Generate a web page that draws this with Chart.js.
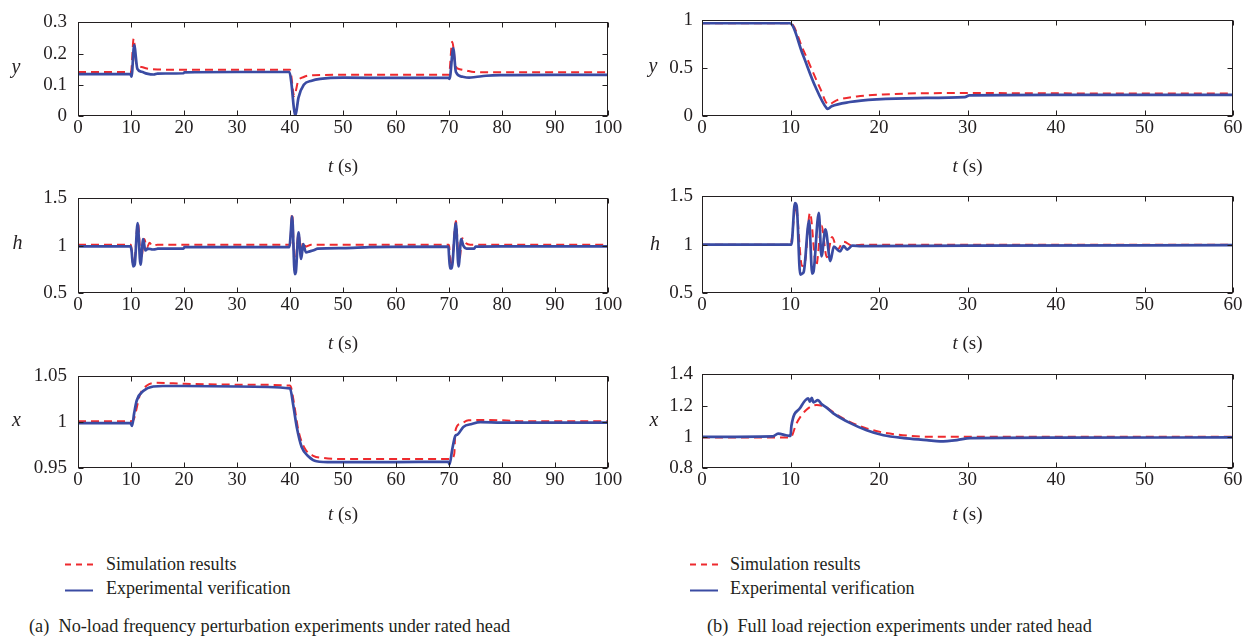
<!DOCTYPE html>
<html>
<head>
<meta charset="utf-8">
<script src="https://cdn.jsdelivr.net/npm/chart.js@4.4.1/dist/chart.umd.min.js"></script>
<style>
  html, body { margin:0; padding:0; background:#fff; }
  body { width:1250px; height:642px; position:relative; overflow:hidden; font-family:"Liberation Serif", serif; color:#231f20; }
  canvas { position:absolute; }
  .t { position:absolute; white-space:pre; line-height:1; }
  .ylab { font-style:italic; font-size:20px; }
  .xlab { font-size:19px; }
  .leg { font-size:18px; }
  .cap { font-size:18.3px; }
  svg { position:absolute; }
</style>
</head>
<body>
<canvas id="cAy" width="625" height="140" style="left:0;top:0"></canvas>
<canvas id="cAh" width="625" height="141" style="left:0;top:176px"></canvas>
<canvas id="cAx" width="625" height="138" style="left:0;top:354px"></canvas>
<canvas id="cBy" width="625" height="140" style="left:625px;top:0"></canvas>
<canvas id="cBh" width="625" height="141" style="left:625px;top:176px"></canvas>
<canvas id="cBx" width="625" height="138" style="left:625px;top:354px"></canvas>
<div id="texts"></div>
<script>
// ---------------- DATA ----------------
// (a) No-load frequency perturbation, y
const aY_expT = [0,9.9,10.1,10.6,11.2,12,13,14.3,15,19.9,20.1,30,39.9,40.3,40.7,41.0,41.6,42.6,44.1,45.7,50,60,69.9,70.1,70.8,71.3,72.5,73.8,75,77,79.7,90,100];
const aY_exp  = [0.134,0.134,0.126,0.227,0.151,0.142,0.136,0.133,0.136,0.137,0.140,0.141,0.141,0.10,0.03,0.0,0.059,0.10,0.113,0.119,0.123,0.122,0.122,0.119,0.217,0.141,0.126,0.123,0.125,0.129,0.131,0.132,0.132];
const aY_simT = [0,10,10.5,11.0,12,13,15,20,30,40,40.8,41.5,42.6,44.5,50,60,70,70.6,71.3,72,73.2,74.7,80,90,100];
const aY_sim  = [0.141,0.141,0.248,0.168,0.157,0.152,0.149,0.148,0.148,0.148,0.064,0.11,0.125,0.131,0.132,0.132,0.132,0.238,0.158,0.15,0.146,0.141,0.14,0.14,0.14];
// (a) h
const aH_expT = [0,9.9,10.1,10.4,10.7,11.25,11.8,12.3,12.7,13.2,14.1,14.8,15,19.9,20.1,30,39.9,40.1,40.4,40.9,41.1,41.6,42.1,42.5,43,43.7,44.6,45.2,50,55,69.9,70.0,70.2,70.5,71.3,71.8,72.3,72.7,73.3,74.8,75,80,100];
const aH_exp  = [0.993,0.993,0.95,0.78,0.80,1.24,0.80,1.07,0.95,0.97,0.96,0.965,0.97,0.97,0.985,0.985,0.985,1.10,1.31,0.70,0.72,1.14,0.86,1.016,0.93,0.94,0.955,0.97,0.975,0.985,0.99,0.90,0.76,0.76,1.24,0.78,1.07,1.0,0.97,0.97,0.99,0.993,0.993];
const aH_simT = [0,10,10.4,10.7,11.3,11.9,12.5,13.0,13.5,14,15,40,40.4,40.9,41.6,42.1,42.5,43,44,70,70.3,70.6,71.3,71.9,72.5,73.1,74,100];
const aH_sim  = [1.01,1.01,0.80,0.85,1.24,0.85,1.07,0.98,1.03,1.0,1.01,1.01,1.34,0.75,1.12,0.95,1.04,0.99,1.01,1.01,0.78,0.82,1.26,0.82,1.08,1.03,1.01,1.01];
// (a) x
const aX_expT = [0,9.9,10.2,10.6,11.1,12.3,14.2,16,20,30,40,40.6,41.3,42.2,43.5,45,48,60,69.9,70.1,70.6,71.2,71.6,72.7,74.3,75.9,80,90,100];
const aX_exp  = [0.999,0.999,0.996,1.01,1.024,1.034,1.039,1.0395,1.0395,1.039,1.037,1.019,0.994,0.973,0.9626,0.9574,0.9564,0.9565,0.9568,0.9539,0.97,0.9853,0.9865,0.9948,0.998,1.0,0.9995,0.9995,0.9995];
const aX_simT = [0,10,10.5,11.7,13,14.8,20,30,40,40.2,40.75,41.6,42.8,44.4,46.3,50,70,70.5,71,71.2,72.1,73.7,76.9,85,100];
const aX_sim  = [1.001,1.001,1.003,1.030,1.040,1.043,1.042,1.041,1.040,1.038,1.021,0.9905,0.9713,0.9633,0.9609,0.9598,0.9598,0.9605,0.9657,0.9905,0.998,1.002,1.0025,1.001,1.001];
// (b) Full load rejection, y
const bY_expT = [0,9.93,11.4,12.76,14.1,14.2,14.65,16.7,19.75,24.3,29.7,30.2,40,50,60];
const bY_exp  = [0.97,0.97,0.64,0.317,0.079,0.075,0.102,0.146,0.174,0.188,0.198,0.215,0.22,0.222,0.222];
const bY_simT = [0,10,11.4,13.3,14.3,15.2,17.5,20.5,25,30,40,50,60];
const bY_sim  = [0.97,0.97,0.70,0.30,0.12,0.164,0.205,0.225,0.238,0.24,0.237,0.235,0.235];
// (b) h
const bH_expT = [0,10.1,10.5,10.7,11.1,11.3,11.5,12.1,12.45,12.6,13.2,13.5,13.95,14.5,14.9,15.6,16.0,16.4,17.0,18,30,60];
const bH_exp  = [1.0,1.0,1.43,1.40,0.69,0.70,0.72,1.25,0.70,0.72,1.33,0.88,1.16,0.83,0.98,0.93,0.985,0.95,0.99,0.985,0.99,0.995];
const bH_simT = [0,10,10.6,11.3,11.6,12.2,12.9,13.5,14.1,14.7,15.3,16,17,18,60];
const bH_sim  = [1.0,1.0,1.40,0.78,0.80,1.33,0.78,1.20,0.87,1.08,0.95,1.03,0.99,1.0,1.0];
// (b) x
const bX_expT = [0,8,8.6,9.5,10,10.1,11.06,12.0,12.2,12.4,12.6,13.1,13.5,14.0,14.8,16.7,18.6,20.5,22.8,25.4,26.9,28.8,30.3,40,60];
const bX_exp  = [1.0,1.003,1.02,1.01,1.005,1.069,1.183,1.246,1.225,1.25,1.22,1.235,1.21,1.19,1.152,1.089,1.042,1.01,0.992,0.979,0.971,0.979,0.992,0.995,0.996];
const bX_simT = [0,10,10.7,11.8,12.95,14,15.2,16.7,18.6,20.5,23.5,26.1,60];
const bX_sim  = [0.996,0.996,1.089,1.173,1.204,1.19,1.142,1.096,1.054,1.027,1.006,1.0,1.0];

// tick labels
const xTicksA = ['0','10','20','30','40','50','60','70','80','90','100'];
const xTicksB = ['0','10','20','30','40','50','60'];
const yTicksAy = ['0','0.1','0.2','0.3'];
const yTicksAh = ['0.5','1','1.5'];
const yTicksAx = ['0.95','1','1.05'];
const yTicksBy = ['0','0.5','1'];
const yTicksBh = ['0.5','1','1.5'];
const yTicksBx = ['0.8','1','1.2','1.4'];

const simLabel = 'Simulation results';
const expLabel = 'Experimental verification';
const captionA = '(a)  No-load frequency perturbation experiments under rated head';
const captionB = '(b)  Full load rejection experiments under rated head';

// ---------------- STYLE ----------------
const BLUE = '#3a4ba3';
const RED = '#ee2a2e';
const INK = '#231f20';
const FONT = { family: 'Liberation Serif', size: 19 };

const boxTicks = {
  id: 'boxTicks',
  afterDatasetsDraw(chart) {
    const { ctx, chartArea: a, scales: { x, y } } = chart;
    const L = Math.round(a.left) + 0.5, R = Math.round(a.right) - 0.5;
    const T = Math.round(a.top) + 0.5, B = Math.round(a.bottom) - 0.5;
    const len = 5;
    ctx.save();
    ctx.strokeStyle = INK;
    ctx.lineWidth = 1;
    ctx.beginPath();
    x.ticks.forEach(t => {
      const p = Math.round(x.getPixelForValue(t.value)) + 0.5;
      ctx.moveTo(p, B); ctx.lineTo(p, B - len);
      ctx.moveTo(p, T); ctx.lineTo(p, T + len);
    });
    y.ticks.forEach(t => {
      const p = Math.round(y.getPixelForValue(t.value)) + 0.5;
      ctx.moveTo(L, p); ctx.lineTo(L + len, p);
      ctx.moveTo(R, p); ctx.lineTo(R - len, p);
    });
    ctx.stroke();
    ctx.strokeRect(L, T, R - L, B - T);
    ctx.restore();
  }
};

function zip(t, v) { return t.map((tt, i) => ({ x: tt, y: v[i] })); }

function makeChart(id, expT, expV, simT, simV, xLabels, yLabels, yMin, yMax, yAxisW, yPad) {
  const xVals = xLabels.map(Number), yVals = yLabels.map(Number);
  new Chart(document.getElementById(id), {
    type: 'line',
    data: {
      datasets: [
        { label: expLabel, data: zip(expT, expV), borderColor: BLUE, borderWidth: 2.7, pointRadius: 0, fill: false, cubicInterpolationMode: 'monotone', order: 0 },
        { label: simLabel, data: zip(simT, simV), borderColor: RED, borderWidth: 2, borderDash: [8, 5], pointRadius: 0, fill: false, cubicInterpolationMode: 'monotone', order: 1 }
      ]
    },
    options: {
      responsive: false, animation: false, events: [],
      layout: { padding: { top: 18, right: 17, left: 0, bottom: 0 } },
      plugins: { legend: { display: false }, tooltip: { enabled: false } },
      scales: {
        x: {
          type: 'linear', min: xVals[0], max: xVals[xVals.length - 1],
          afterBuildTicks: s => { s.ticks = xVals.map(v => ({ value: v })); },
          afterFit: s => { s.height = 24; },
          ticks: { font: FONT, color: INK, padding: 1, maxRotation: 0, autoSkip: false,
                   callback: (v) => xLabels[xVals.indexOf(v)] ?? '' },
          grid: { display: false, drawTicks: false }, border: { display: false }
        },
        y: {
          type: 'linear', min: yMin, max: yMax,
          afterBuildTicks: s => { s.ticks = yVals.map(v => ({ value: v })); },
          afterFit: s => { s.width = yAxisW; },
          ticks: { font: FONT, color: INK, padding: yPad, autoSkip: false,
                   callback: (v) => { const i = yVals.findIndex(q => Math.abs(q - v) < 1e-9); return i >= 0 ? yLabels[i] : ''; } },
          grid: { display: false, drawTicks: false }, border: { display: false }
        }
      }
    },
    plugins: [boxTicks]
  });
}

makeChart('cAy', aY_expT, aY_exp, aY_simT, aY_sim, xTicksA, yTicksAy, 0, 0.3, 78, 11);
makeChart('cAh', aH_expT, aH_exp, aH_simT, aH_sim, xTicksA, yTicksAh, 0.5, 1.5, 78, 11);
makeChart('cAx', aX_expT, aX_exp, aX_simT, aX_sim, xTicksA, yTicksAx, 0.95, 1.05, 78, 11);
makeChart('cBy', bY_expT, bY_exp, bY_simT, bY_sim, xTicksB, yTicksBy, 0, 1, 77, 9);
makeChart('cBh', bH_expT, bH_exp, bH_simT, bH_sim, xTicksB, yTicksBh, 0.5, 1.5, 77, 9);
makeChart('cBx', bX_expT, bX_exp, bX_simT, bX_sim, xTicksB, yTicksBx, 0.8, 1.4, 77, 9);

// ---------------- TEXT (HTML) ----------------
const host = document.getElementById('texts');
const ASC = 0.8375; // baseline offset for line-height:1 in Liberation Serif
function addText(txt, cls, size, x, baseline, align, html) {
  const d = document.createElement('div');
  d.className = 't ' + cls;
  if (html) d.innerHTML = txt; else d.textContent = txt;
  d.style.top = (baseline - ASC * size) + 'px';
  if (align === 'center') { d.style.left = x + 'px'; d.style.transform = 'translateX(-50%)'; }
  else d.style.left = x + 'px';
  host.appendChild(d);
}
// y axis names
addText('y', 'ylab', 20, 16, 72.5, 'center');
addText('h', 'ylab', 20, 17.5, 249, 'center');
addText('x', 'ylab', 20, 16.5, 426, 'center');
addText('y', 'ylab', 20, 653, 72, 'center');
addText('h', 'ylab', 20, 655, 250, 'center');
addText('x', 'ylab', 20, 654, 426, 'center');
// t (s)
[172, 349, 520].forEach(b => {
  addText('<i>t</i> (s)', 'xlab', 19, 343, b, 'center', true);
  addText('<i>t</i> (s)', 'xlab', 19, 967.5, b, 'center', true);
});
// legends
function legend(x0) {
  const svg = document.createElementNS('http://www.w3.org/2000/svg', 'svg');
  svg.setAttribute('width', '30'); svg.setAttribute('height', '44');
  svg.style.left = x0 + 'px'; svg.style.top = '550px';
  svg.innerHTML = `<line x1="0" y1="14.5" x2="28" y2="14.5" stroke="${RED}" stroke-width="2" stroke-dasharray="6,5"/>` +
                  `<line x1="0" y1="40.5" x2="28" y2="40.5" stroke="${BLUE}" stroke-width="2"/>`;
  document.body.appendChild(svg);
}
legend(65); legend(690);
addText(simLabel, 'leg', 18, 106, 570);
addText(expLabel, 'leg', 18, 106, 594);
addText(simLabel, 'leg', 18, 730, 570);
addText(expLabel, 'leg', 18, 730, 594);
addText(captionA, 'cap', 18.3, 29, 632);
addText(captionB, 'cap', 18.3, 707, 632);
</script>
</body>
</html>
